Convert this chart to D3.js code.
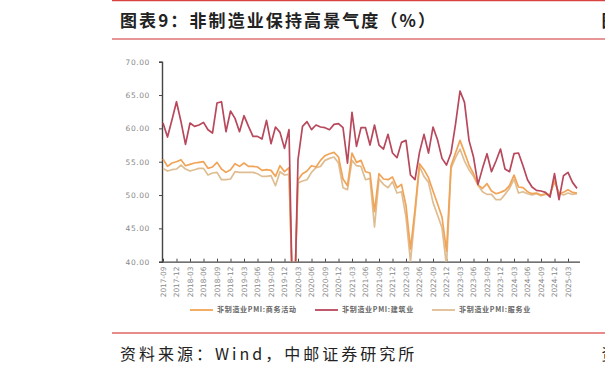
<!DOCTYPE html>
<html>
<head>
<meta charset="utf-8">
<script src="https://cdn.jsdelivr.net/npm/d3@7"></script>
<style>
body { margin: 0; background: #fff; }
svg { display: block; }
</style>
</head>
<body>
<svg id="chart" width="605" height="373"></svg>
<script>
// monthly categories 2017-09 .. 2025-05
const months = d3.timeMonth.range(new Date(2017, 8, 1), new Date(2025, 5, 1)).map(d3.timeFormat("%Y-%m"));
const tickLabels = months.filter((d, i) => i % 3 === 0);
const yTicks = [40, 45, 50, 55, 60, 65, 70];
const seriesNames = ["非制造业PMI:商务活动", "非制造业PMI:建筑业", "非制造业PMI:服务业"];

const business = [
	55.4, 54.3, 54.8, 55.0,
	55.3, 54.4, 54.6, 54.8, 54.9, 55.0, 54.0, 54.2, 54.9, 53.9, 53.4, 53.8,
	54.7, 54.3, 54.8, 54.3, 54.3, 54.2, 53.7, 53.8, 53.7, 52.8, 54.4, 53.5,
	54.1, 29.6, 52.3, 53.2, 53.6, 54.4, 54.2, 55.2, 55.9, 56.2, 56.4, 55.7,
	52.4, 51.4, 56.3, 54.9, 55.2, 53.5, 53.3, 47.5, 53.2, 52.4, 52.3, 52.7,
	51.1, 51.6, 48.4, 41.9, 47.8, 54.7, 53.8, 52.6, 50.6, 48.7, 46.7, 41.6,
	54.4, 56.3, 58.2, 56.4, 54.5, 53.2, 51.5, 51.0, 51.7, 50.6, 50.2, 50.4,
	50.7, 51.4, 53.0, 51.2, 51.1, 50.5, 50.2, 50.3, 50.0, 50.2, 50.0, 52.2,
	50.2, 50.4, 50.8, 50.4, 50.3
];
const construction = [
	60.8, 58.7, 61.3, 64.0,
	61.0, 57.6, 60.8, 60.3, 60.5, 60.9, 59.8, 59.3, 63.8, 64.0, 59.5, 62.6,
	61.5, 59.5, 61.9, 60.3, 58.8, 58.8, 58.4, 61.2, 57.7, 60.2, 59.4, 57.0,
	59.8, 26.6, 55.3, 60.3, 61.0, 59.8, 60.5, 60.2, 60.1, 59.8, 60.6, 60.7,
	60.1, 54.8, 62.4, 57.3, 60.1, 60.1, 57.5, 60.5, 57.5, 56.9, 59.1, 56.3,
	55.6, 57.9, 58.2, 53.0, 52.3, 56.4, 59.1, 56.3, 60.2, 58.3, 55.5, 54.5,
	56.3, 60.6, 65.6, 63.9, 58.2, 55.7, 51.6, 54.0, 56.2, 53.5, 55.1, 56.9,
	53.9, 53.5, 56.2, 56.3, 54.4, 52.3, 51.2, 50.7, 50.6, 50.4, 49.7, 53.2,
	49.3, 52.9, 53.4, 51.9, 51.0
];
const services = [
	54.0, 53.6, 53.8, 53.9,
	54.5, 53.9, 53.6, 53.8, 54.0, 54.0, 53.0, 53.3, 53.4, 52.3, 52.3, 52.4,
	53.5, 53.4, 53.4, 53.4, 53.4, 53.2, 52.8, 52.8, 52.9, 51.4, 53.5, 53.0,
	53.1, 30.1, 51.8, 52.1, 52.3, 53.4, 54.1, 54.3, 55.2, 55.5, 55.7, 54.8,
	51.1, 50.8, 55.2, 54.4, 54.3, 52.3, 52.5, 45.2, 52.4, 51.6, 51.1, 52.0,
	50.3, 50.5, 46.7, 40.0, 47.1, 54.3, 52.8, 51.9, 48.9, 47.0, 45.1, 39.4,
	54.0, 55.6, 56.9, 55.1, 53.8, 52.8, 51.5, 50.5, 50.1, 50.1, 49.3, 49.3,
	50.1, 51.0, 52.4, 50.3, 50.5, 50.2, 50.0, 50.2, 49.9, 50.1, 50.1, 52.0,
	50.3, 50.0, 50.3, 50.1, 50.2
];

const colors = ["#f1a457", "#b8485c", "#dfbd92"];
const cjk = "'Noto Sans CJK SC', 'Noto Sans', sans-serif";

let svg = d3.select("#chart");

// page frame: rules, title, source
svg.append("line").attr("x1", 112).attr("x2", 605).attr("y1", 0.5).attr("y2", 0.5)
	.attr("stroke", "#d9433f").attr("stroke-width", 1.5);
svg.append("text").attr("x", 120).attr("y", 27)
	.attr("font-family", cjk).attr("font-weight", 700).attr("font-size", 17)
	.attr("letter-spacing", 2.1).attr("fill", "#222")
	.text("图表9：非制造业保持高景气度（%）");
// next column's title, cut by the page edge
svg.append("text").attr("x", 601.5).attr("y", 27)
	.attr("font-family", cjk).attr("font-weight", 700).attr("font-size", 17).attr("fill", "#222")
	.text("图");
svg.append("line").attr("x1", 112).attr("x2", 605).attr("y1", 39).attr("y2", 39)
	.attr("stroke", "#e07272").attr("stroke-width", 1.5);
svg.append("line").attr("x1", 112).attr("x2", 605).attr("y1", 333).attr("y2", 333)
	.attr("stroke", "#e06565").attr("stroke-width", 1.5);
svg.append("text").attr("x", 120).attr("y", 360)
	.attr("font-family", cjk).attr("font-size", 16).attr("letter-spacing", 3).attr("fill", "#222")
	.text("资料来源：Wind，中邮证券研究所");
svg.append("text").attr("x", 601.5).attr("y", 360)
	.attr("font-family", cjk).attr("font-size", 16).attr("fill", "#222")
	.text("资");

// scales
let x = d3.scalePoint().domain(months).range([163, 577]);
let y = d3.scaleLinear().domain([40, 70]).range([261.7, 61.7]);

svg.append("defs").append("clipPath").attr("id", "plot")
	.append("rect").attr("x", 160).attr("y", 50).attr("width", 425).attr("height", 211.7);

// y axis
let gy = svg.append("g")
	.attr("transform", "translate(162,0)")
	.call(d3.axisLeft(y).tickValues(yTicks).tickFormat(d3.format(".2f")).tickSize(3).tickPadding(9));
gy.select(".domain").attr("stroke", "#444").attr("stroke-width", 1.4);
gy.selectAll(".tick line").attr("stroke", "#444");
gy.selectAll(".tick text").attr("font-family", "'DejaVu Sans', sans-serif").attr("font-size", 7.5)
	.attr("fill", "#888").attr("letter-spacing", 0.6);

// x axis
let gx = svg.append("g")
	.attr("transform", "translate(0,261.7)")
	.call(d3.axisBottom(x).tickValues(tickLabels).tickSize(-3).tickSizeOuter(0).tickPadding(4));
gx.select(".domain").attr("d", "M162,0.5H580").attr("stroke", "#444").attr("stroke-width", 1.2);
gx.selectAll(".tick line").attr("stroke", "#444");
gx.selectAll(".tick text")
	.attr("font-family", "'DejaVu Sans', sans-serif").attr("font-size", 7.3).attr("fill", "#888")
	.attr("text-anchor", "end")
	.attr("transform", "rotate(-90)")
	.attr("x", -5).attr("y", 0).attr("dy", "0.32em");

// lines
let line = d3.line().x((d, i) => x(months[i])).y(d => y(d));
let plot = svg.append("g").attr("clip-path", "url(#plot)");
[[services, 2], [business, 0], [construction, 1]].forEach(([vals, k]) => {
	plot.append("path")
		.datum(vals)
		.attr("d", line)
		.attr("fill", "none")
		.attr("stroke", colors[k])
		.attr("stroke-width", 1.7)
		.attr("stroke-linejoin", "round");
});

// legend
let legendX = [190, 315, 432];
let legend = svg.append("g").selectAll("g")
	.data(seriesNames)
	.join("g")
	.attr("transform", (d, i) => `translate(${legendX[i]},310)`);
legend.append("line").attr("x1", 0).attr("x2", 23).attr("y1", 0).attr("y2", 0)
	.attr("stroke", (d, i) => colors[i]).attr("stroke-width", 1.8);
legend.append("text").attr("x", 27).attr("y", 0).attr("dy", "0.35em")
	.attr("font-family", cjk).attr("font-size", 7).attr("font-weight", 700)
	.attr("letter-spacing", 0.7).attr("fill", "#666")
	.text(d => d);
</script>
</body>
</html>
